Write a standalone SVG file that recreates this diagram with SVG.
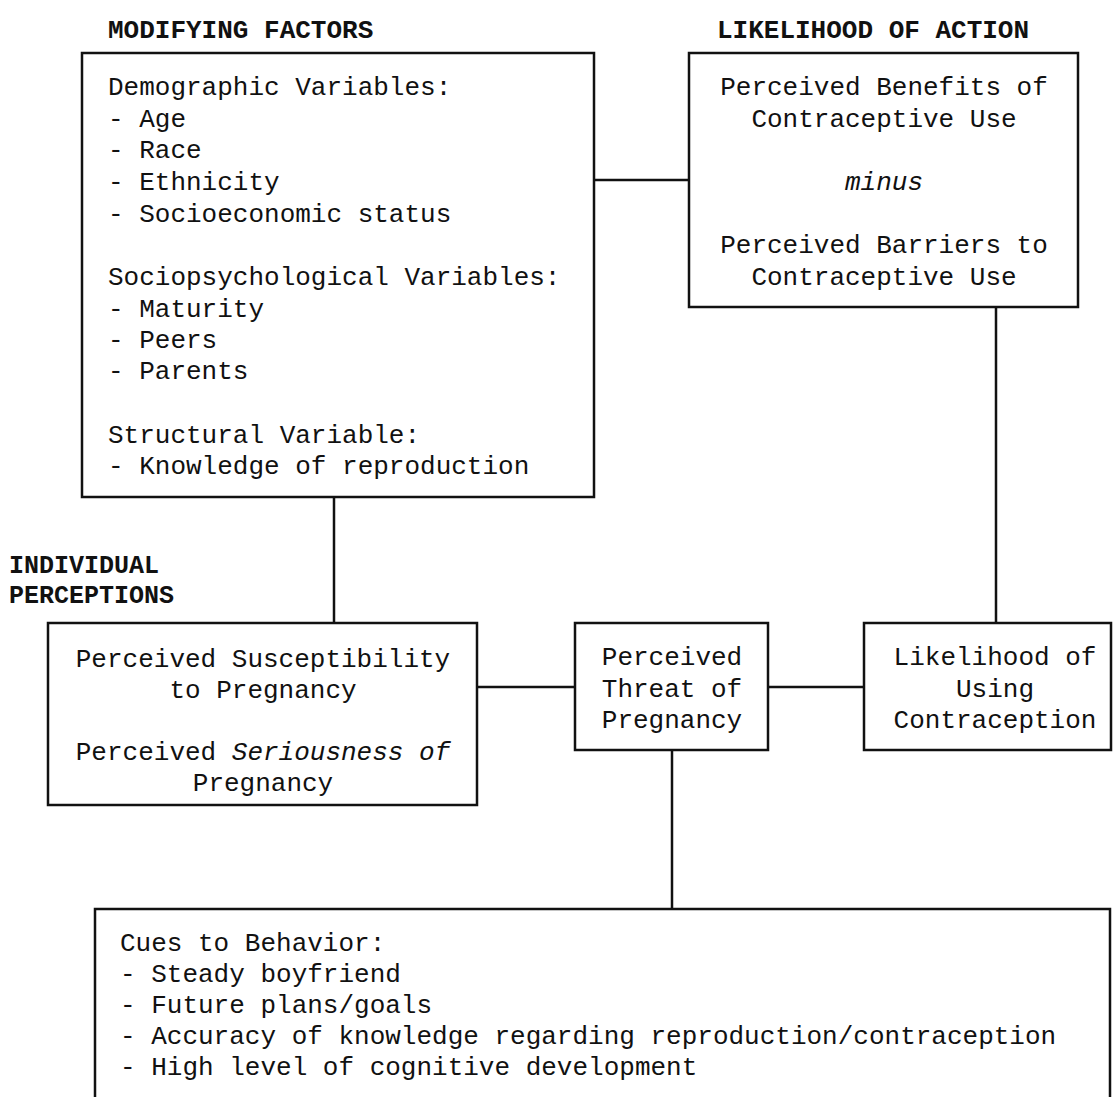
<svg xmlns="http://www.w3.org/2000/svg" width="1116" height="1097" viewBox="0 0 1116 1097">
<style>
text { font-family: "Liberation Mono", "DejaVu Sans Mono", monospace; font-size: 26px; fill: #111; }
.h { font-weight: bold; }
.hs { font-weight: bold; font-size: 25px; }
.c { text-anchor: middle; }
.i { font-style: italic; }
.box { fill: none; stroke: #111; stroke-width: 2.5; }
.conn line { stroke: #111; stroke-width: 2.5; }
</style>
<rect width="1116" height="1097" fill="#fff"/>
<g id="headings">
<text class="h" x="108" y="38">MODIFYING FACTORS</text>
<text class="h" x="717" y="38">LIKELIHOOD OF ACTION</text>
<text class="hs" x="9" y="573">INDIVIDUAL</text>
<text class="hs" x="9" y="603">PERCEPTIONS</text>
</g>
<g class="conn" id="connectors">
<line x1="594" y1="180" x2="689" y2="180"/>
<line x1="996" y1="307" x2="996" y2="623"/>
<line x1="334" y1="497" x2="334" y2="623"/>
<line x1="477" y1="687" x2="575" y2="687"/>
<line x1="768" y1="687" x2="864" y2="687"/>
<line x1="672" y1="750" x2="672" y2="909"/>
</g>
<g id="modifying-factors">
<rect class="box" x="82" y="53" width="512" height="444"/>
<text x="108" y="95">Demographic Variables:</text>
<text x="108" y="127">- Age</text>
<text x="108" y="158">- Race</text>
<text x="108" y="190">- Ethnicity</text>
<text x="108" y="222">- Socioeconomic status</text>
<text x="108" y="285">Sociopsychological Variables:</text>
<text x="108" y="317">- Maturity</text>
<text x="108" y="348">- Peers</text>
<text x="108" y="379">- Parents</text>
<text x="108" y="443">Structural Variable:</text>
<text x="108" y="474">- Knowledge of reproduction</text>
</g>
<g id="benefits-barriers">
<rect class="box" x="689" y="53" width="389" height="254"/>
<text class="c" x="884" y="95">Perceived Benefits of</text>
<text class="c" x="884" y="127">Contraceptive Use</text>
<text class="c i" x="884" y="190">minus</text>
<text class="c" x="884" y="253">Perceived Barriers to</text>
<text class="c" x="884" y="285">Contraceptive Use</text>
</g>
<g id="susceptibility-seriousness">
<rect class="box" x="48" y="623" width="429" height="182"/>
<text class="c" x="263" y="667">Perceived Susceptibility</text>
<text class="c" x="263" y="698">to Pregnancy</text>
<text class="c" x="263" y="760">Perceived <tspan class="i">Seriousness of</tspan></text>
<text class="c" x="263" y="791">Pregnancy</text>
</g>
<g id="threat">
<rect class="box" x="575" y="623" width="193" height="127"/>
<text class="c" x="672" y="665">Perceived</text>
<text class="c" x="672" y="697">Threat of</text>
<text class="c" x="672" y="728">Pregnancy</text>
</g>
<g id="likelihood">
<rect class="box" x="864" y="623" width="247" height="127"/>
<text class="c" x="995" y="665">Likelihood of</text>
<text class="c" x="995" y="697">Using</text>
<text class="c" x="995" y="728">Contraception</text>
</g>
<g id="cues">
<path class="box" d="M95,1097 V909 H1110 V1097"/>
<text x="120" y="951">Cues to Behavior:</text>
<text x="120" y="982">- Steady boyfriend</text>
<text x="120" y="1013">- Future plans/goals</text>
<text x="120" y="1044">- Accuracy of knowledge regarding reproduction/contraception</text>
<text x="120" y="1075">- High level of cognitive development</text>
</g>
</svg>
